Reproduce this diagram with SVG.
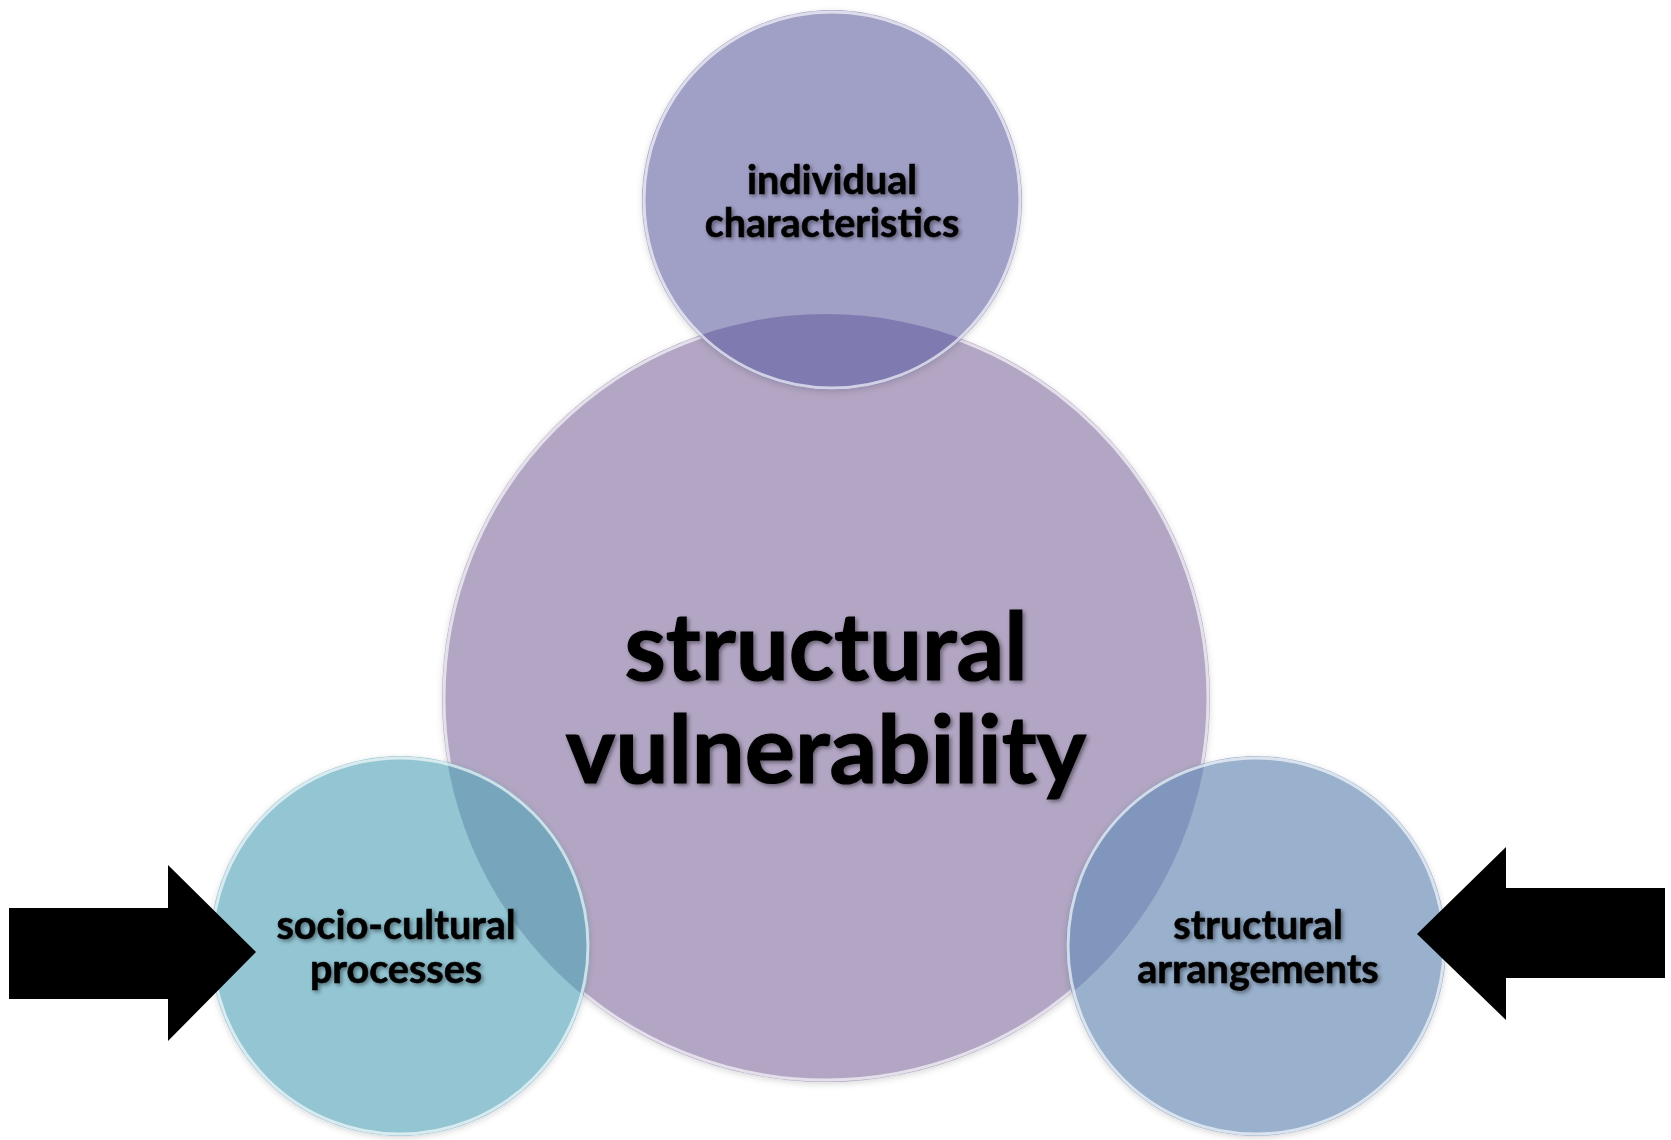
<svg xmlns="http://www.w3.org/2000/svg" width="1671" height="1140" viewBox="0 0 1671 1140">
<style>
.lbl{font-family:Lato,"Open Sans","Liberation Sans",sans-serif;font-weight:700;fill:#000;stroke:#000;text-anchor:middle}
.small{font-size:39.5px;stroke-width:0.6}
.big{font-size:94px;stroke-width:1.2}
.rim{fill:none;stroke:#ffffff;stroke-opacity:0.65;stroke-width:3}
.arrow{fill:#000}
</style>
<defs>
<filter id="ts" x="-10%" y="-30%" width="120%" height="160%">
<feDropShadow dx="2" dy="2" stdDeviation="2" flood-color="#000" flood-opacity="0.45"/>
</filter>
<filter id="cs" x="-10%" y="-10%" width="120%" height="120%">
<feDropShadow dx="0" dy="2" stdDeviation="3" flood-color="#000" flood-opacity="0.15"/>
</filter>
<clipPath id="mainClip"><circle cx="826" cy="698" r="384"/></clipPath>
</defs>
<rect width="1671" height="1140" fill="#ffffff"/>
<g id="node-main">
<circle cx="826" cy="698" r="384" fill="#b3a6c4" filter="url(#cs)"/>
<circle class="rim" cx="826" cy="698" r="382"/>
</g>
<g id="node-individual">
<circle cx="832" cy="200" r="190" fill="#a09fc6" filter="url(#cs)"/>
<circle cx="832" cy="200" r="190" fill="#7f7bb0" clip-path="url(#mainClip)"/>
<circle class="rim" cx="832" cy="200" r="188"/>
<text class="lbl small" filter="url(#ts)"><tspan x="832" y="194">individual</tspan><tspan x="832" y="237">characteristics</tspan></text>
</g>
<g id="node-socio">
<circle cx="400" cy="946" r="190" fill="#93c5d3" filter="url(#cs)"/>
<circle cx="400" cy="946" r="190" fill="#77a6bc" clip-path="url(#mainClip)"/>
<circle class="rim" cx="400" cy="946" r="188"/>
<text class="lbl small" filter="url(#ts)"><tspan x="396" y="939">socio-cultural</tspan><tspan x="396" y="983">processes</tspan></text>
</g>
<g id="node-structural">
<circle cx="1256" cy="946" r="190" fill="#99b1cd" filter="url(#cs)"/>
<circle cx="1256" cy="946" r="190" fill="#8196bd" clip-path="url(#mainClip)"/>
<circle class="rim" cx="1256" cy="946" r="188"/>
<text class="lbl small" filter="url(#ts)"><tspan x="1258" y="939">structural</tspan><tspan x="1258" y="983">arrangements</tspan></text>
</g>
<g id="main-label">
<text class="lbl big" filter="url(#ts)"><tspan x="826" y="680">structural</tspan><tspan x="826" y="783">vulnerability</tspan></text>
</g>
<g id="connectors">
<polygon class="arrow" points="9,908 168,908 168,865 256,952 168,1041 168,999 9,999"/>
<polygon class="arrow" points="1665,888 1506,888 1506,847 1417,934 1506,1020 1506,978 1665,978"/>
</g>
</svg>
